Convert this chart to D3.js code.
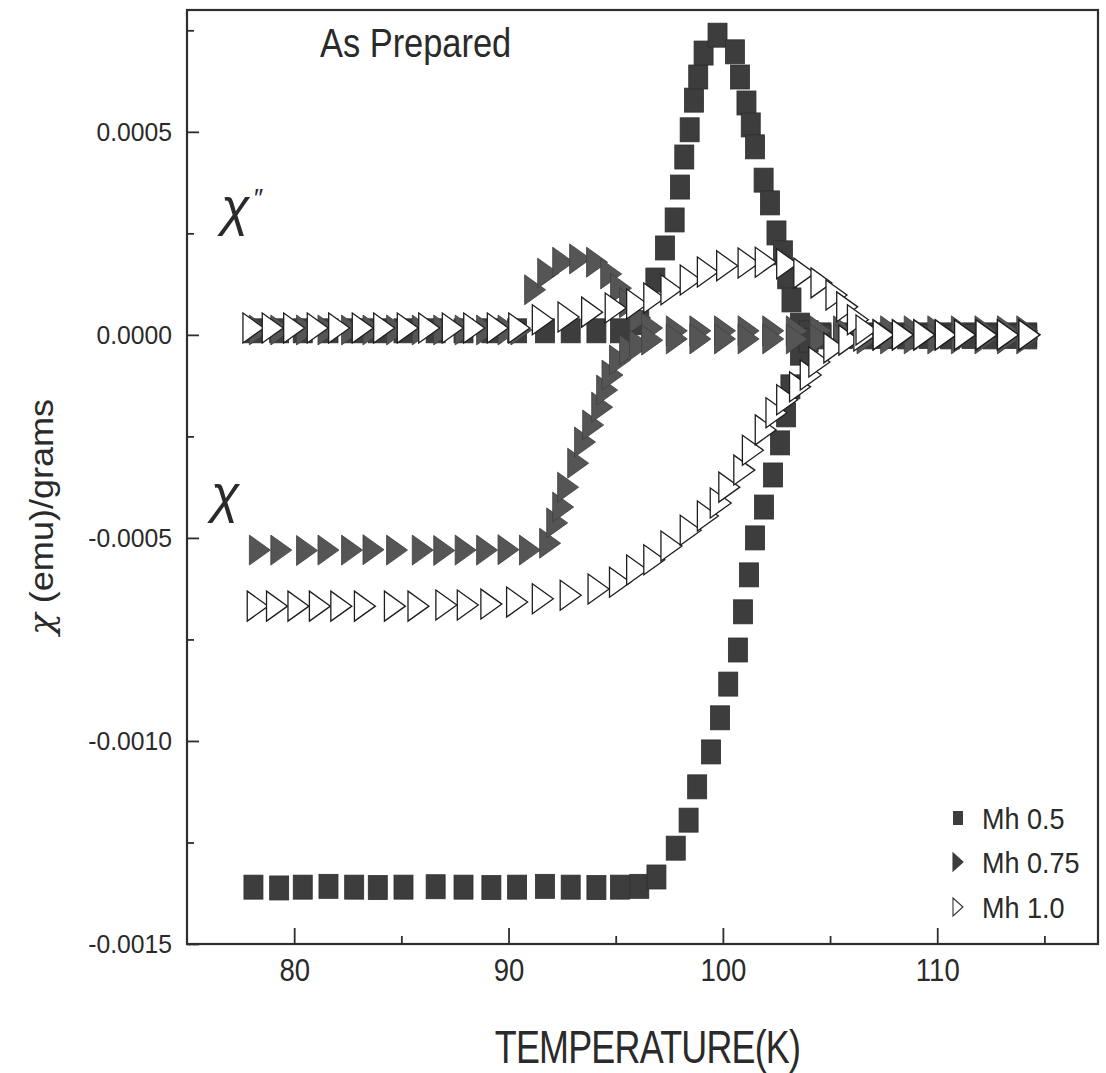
<!DOCTYPE html>
<html>
<head>
<meta charset="utf-8">
<script src="https://cdn.jsdelivr.net/npm/d3@7"></script>
<style>
  body { margin: 0; background: #fff; }
  svg { display: block; }
  text { font-family: "Liberation Sans", Arial, sans-serif; fill: #2a2a2a; }
</style>
</head>
<body>
<svg id="chart" width="1106" height="1073"></svg>
<script>
// AC susceptibility of the as-prepared samples: chi' (real) and chi'' (imaginary)
// versus temperature for three Mn contents.

// ---- Mn 0.5 (filled squares) ----
const tMn05Real = [78.1, 79.3, 80.4, 81.6, 82.8, 83.9, 85.1, 86.6, 87.9, 89.2, 90.4, 91.7, 92.9, 94.1, 95.2, 96.1,
  96.9, 97.8, 98.4, 98.8, 99.45, 99.87, 100.25, 100.7, 100.94, 101.22, 101.5, 101.92, 102.34, 102.67, 102.95, 103.15, 103.6, 104.0, 104.6,
  105.6, 106.6, 107.6, 108.6, 109.6, 110.6, 111.6, 112.6, 113.4, 114.2];
const chiMn05Real = [-0.00136, -0.001362, -0.00136, -0.001358, -0.00136, -0.001361, -0.00136, -0.001359, -0.00136, -0.001361, -0.00136, -0.001358, -0.00136, -0.001361, -0.00136, -0.001358,
  -0.001335, -0.001264, -0.001195, -0.001113, -0.001027, -0.000943, -0.000860, -0.000776, -0.000682, -0.000591, -0.000500, -0.000424, -0.000345, -0.000266, -0.000197, -0.000128, -0.000045, -0.000013, -0.000005,
  -0.000004, -0.000005, -0.000004, -0.000005, -0.000004, -0.000005, -0.000004, -0.000005, -0.000004, -0.000005];

const tMn05Imag = [78.1, 79.3, 80.4, 81.6, 82.8, 83.9, 85.1, 86.6, 87.9, 89.2, 90.4, 91.7, 92.9, 94.1, 95.2, 96.1,
  96.85, 97.3, 97.75, 98.0, 98.2, 98.45, 98.65, 98.85, 99.1, 99.75,
  100.56, 100.8, 101.1, 101.3, 101.5, 101.9, 102.2, 102.5, 102.8, 103.0, 103.2, 103.6, 104.0,
  104.6, 105.6, 106.6, 107.6, 108.6, 109.6, 110.6, 111.6, 112.6, 113.4, 114.2];
const chiMn05Imag = [0.00001, 0.00001, 0.00001, 0.00001, 0.00001, 0.00001, 0.00001, 0.00001, 0.00001, 0.00001, 0.00001, 0.00001, 0.00001, 0.00001, 0.00001, 0.00003,
  0.000135, 0.000214, 0.000283, 0.000364, 0.000438, 0.000505, 0.000578, 0.000635, 0.000694, 0.000738,
  0.000697, 0.000635, 0.000571, 0.000517, 0.000463, 0.000381, 0.000325, 0.000251, 0.000202, 0.000143, 0.000086, 0.000024, 0.000005,
  0, 0, 0, 0, 0, 0, 0, 0, 0, 0, 0];

// ---- Mn 0.75 (filled triangles) ----
const tMn075Real = [78.4, 79.4, 80.6, 81.6, 82.7, 83.7, 84.8, 86.0, 87.0, 88.0, 89.0, 90.0, 91.0,
  91.94, 92.27, 92.55, 92.78, 93.25, 93.57, 93.95, 94.37, 94.6, 94.85, 95.2, 95.67, 96.14,
  96.7, 97.85, 98.95, 100.1, 101.2, 102.35, 103.45, 104.55, 105.65, 106.75, 107.85, 108.95, 110.05, 111.15, 112.25, 113.3, 114.2];
const chiMn075Real = [-0.00053, -0.00053, -0.000531, -0.00053, -0.00053, -0.000529, -0.00053, -0.00053, -0.000531, -0.00053, -0.00053, -0.000529, -0.00053,
  -0.000513, -0.000463, -0.000424, -0.000375, -0.000316, -0.000264, -0.000222, -0.000178, -0.000136, -0.000099, -0.000062, -0.000037, -0.000025,
  -0.000013, -0.00001, -0.00001, -0.00001, -0.00001, -0.00001, -0.00001, -0.00001, -0.00001, -0.00001, -0.00001, -0.00001, -0.00001, -0.00001, -0.00001, -0.00001, -0.00001];

const tMn075Imag = [78.4, 79.4, 80.6, 81.6, 82.7, 83.7, 84.8, 86.0, 87.0, 88.0, 89.0, 90.0, 90.6,
  91.24, 91.85, 92.55, 93.34, 94.13, 94.79, 95.25, 95.67, 96.14,
  96.7, 97.85, 98.95, 100.1, 101.2, 102.35, 103.45, 104.55, 105.65, 106.75, 107.85, 108.95, 110.05, 111.15, 112.25, 113.3, 114.2];
const chiMn075Imag = [0.000012, 0.000012, 0.000012, 0.000012, 0.000012, 0.000012, 0.000012, 0.000012, 0.000012, 0.000012, 0.000012, 0.000012, 0.000012,
  0.000111, 0.000152, 0.000179, 0.000187, 0.000179, 0.000150, 0.000115, 0.000079, 0.000042,
  0.000017, 0.00001, 0.00001, 0.00001, 0.00001, 0.00001, 0.00001, 0.00001, 0.00001, 0.00001, 0.00001, 0.00001, 0.00001, 0.00001, 0.00001, 0.00001, 0.00001];

// ---- Mn 1.0 (open triangles) ----
const tMn10Real = [78.3, 79.2, 80.2, 81.2, 82.2, 83.3, 84.7, 85.8,
  87.1, 88.1, 89.2, 90.4, 91.6, 92.9, 94.2, 95.2,
  96.0, 96.8, 97.6, 98.5, 99.3, 99.9, 100.3, 101.0, 101.4, 102.0, 102.5, 103.0, 103.6, 104.1, 104.5, 105.2, 105.9, 106.6,
  107.5, 108.4, 109.4, 110.4, 111.3, 112.3, 113.3, 114.3];
const chiMn10Real = [-0.000668, -0.000668, -0.000668, -0.000668, -0.000668, -0.000668, -0.000668, -0.000668,
  -0.000665, -0.000665, -0.000663, -0.000658, -0.000650, -0.000641, -0.000626, -0.000609,
  -0.000579, -0.000554, -0.000520, -0.000481, -0.000446, -0.000414, -0.000375, -0.000333, -0.000284, -0.000234, -0.000192, -0.000160, -0.000128, -0.000099, -0.000067, -0.000032, -0.000013, -0.000003,
  0, 0, 0, 0, 0, 0, 0, 0];

const tMn10Imag = [78.1, 79.0, 80.0, 81.1, 82.1, 83.2, 84.2, 85.3, 86.3, 87.4, 88.4, 89.5, 90.5,
  91.6, 92.8, 93.9, 95.0, 96.0, 96.8, 97.6, 98.5, 99.3, 100.2, 101.2, 102.0, 103.0, 103.8, 104.6, 105.3, 105.8, 106.3, 106.7,
  107.5, 108.4, 109.4, 110.4, 111.3, 112.3, 113.3, 114.3];
const chiMn10Imag = [0.000017, 0.000017, 0.000017, 0.000017, 0.000017, 0.000017, 0.000017, 0.000017, 0.000017, 0.000017, 0.000017, 0.000017, 0.000017,
  0.000037, 0.000044, 0.000056, 0.000066, 0.000076, 0.000091, 0.000111, 0.000135, 0.000155, 0.000170, 0.000177, 0.000179, 0.000175, 0.000152, 0.000128, 0.000098, 0.000069, 0.000037, 0.000012,
  0, 0, 0, 0, 0, 0, 0, 0];

// ---- axes ----
const xMajorTicks = [80, 90, 100, 110];
const xMinorTicks = [85, 95, 105, 115];
const yMajorTicks = [-0.0015, -0.0010, -0.0005, 0.0, 0.0005];
const yMinorTicks = [-0.00125, -0.00075, -0.00025, 0.00025, 0.00075];
const legendLabels = ["Mh 0.5", "Mh 0.75", "Mh 1.0"];

const svg = d3.select("#chart");
const plot = { left: 187, right: 1098, top: 10, bottom: 944 };

const x = d3.scaleLinear().domain([75, 117.5]).range([plot.left, plot.right]);
const y = d3.scaleLinear().domain([-0.0015, 0.0008]).range([plot.bottom, plot.top]);

// squeeze text horizontally, like the condensed lettering of the plot
function condense(sel, k) {
  sel.each(function () {
    const w = this.getComputedTextLength();
    d3.select(this).attr("textLength", w * k).attr("lengthAdjust", "spacingAndGlyphs");
  });
}

// markers
const sqW = 19, sqH = 24;
const triW = 21, triH = 30;
const triPath = `M${-triW / 2},${-triH / 2}L${triW / 2},0L${-triW / 2},${triH / 2}Z`;

const pts = (ts, vs) => ts.map((t, i) => ({ t, v: vs[i] }));

const gData = svg.append("g");

function drawSquares(data) {
  gData.append("g").selectAll("rect").data(data).join("rect")
    .attr("x", d => x(d.t) - sqW / 2)
    .attr("y", d => y(d.v) - sqH / 2)
    .attr("width", sqW).attr("height", sqH)
    .attr("fill", "#3d3d3d").attr("stroke", "#2e2e2e").attr("stroke-width", 0.8);
}
function drawTriangles(data, filled) {
  gData.append("g").selectAll("path").data(data).join("path")
    .attr("d", triPath)
    .attr("transform", d => `translate(${x(d.t)},${y(d.v)})`)
    .attr("fill", filled ? "#555" : "#fff")
    .attr("stroke", filled ? "#3f3f3f" : "#1e1e1e")
    .attr("stroke-width", filled ? 0.8 : 1.3)
    .attr("stroke-linejoin", "miter");
}

drawSquares(pts(tMn05Imag, chiMn05Imag));
drawSquares(pts(tMn05Real, chiMn05Real));
drawTriangles(pts(tMn075Imag, chiMn075Imag), true);
drawTriangles(pts(tMn075Real, chiMn075Real), true);
drawTriangles(pts(tMn10Real, chiMn10Real), false);
drawTriangles(pts(tMn10Imag, chiMn10Imag), false);

// frame
svg.append("rect")
  .attr("x", plot.left).attr("y", plot.top)
  .attr("width", plot.right - plot.left).attr("height", plot.bottom - plot.top)
  .attr("fill", "none").attr("stroke", "#2e2e2e").attr("stroke-width", 2.2);

const fmtY = d => d3.format(".4f")(d).replace("\u2212", "-");

// bottom axis, ticks pointing inward
const xAxis = svg.append("g").attr("transform", `translate(0,${plot.bottom})`)
  .call(d3.axisBottom(x).tickValues(xMajorTicks).tickSize(-16).tickPadding(14).tickFormat(d3.format("d")));
svg.append("g").attr("transform", `translate(0,${plot.bottom})`)
  .call(d3.axisBottom(x).tickValues(xMinorTicks).tickSize(-8).tickFormat(""));

// left axis
const yAxis = svg.append("g").attr("transform", `translate(${plot.left},0)`)
  .call(d3.axisLeft(y).tickValues(yMajorTicks).tickSize(-12).tickPadding(15).tickFormat(fmtY));
svg.append("g").attr("transform", `translate(${plot.left},0)`)
  .call(d3.axisLeft(y).tickValues(yMinorTicks).tickSize(-7).tickFormat(""));

svg.selectAll(".domain").remove();
svg.selectAll(".tick line").attr("stroke", "#2e2e2e").attr("stroke-width", 1.8);

xAxis.selectAll("text").attr("font-size", 32).attr("fill", "#2a2a2a").attr("font-family", "Liberation Sans, Arial, sans-serif")
  .call(condense, 0.86);
yAxis.selectAll("text").attr("font-size", 26).attr("fill", "#2a2a2a").attr("font-family", "Liberation Sans, Arial, sans-serif")
  .call(condense, 0.95);

// axis titles
svg.append("text")
  .attr("x", (plot.left + plot.right) / 2 + 5).attr("y", 1063)
  .attr("text-anchor", "middle").attr("font-size", 46)
  .style("letter-spacing", "-1px")
  .text("TEMPERATURE(K)")
  .call(condense, 0.78);

const yTitle = svg.append("text")
  .attr("transform", "translate(53,517) rotate(-90)")
  .attr("text-anchor", "middle").attr("font-size", 34);
yTitle.append("tspan").attr("font-family", "DejaVu Serif, serif").attr("font-style", "italic").text("\u03C7");
yTitle.append("tspan").text(" (emu)/grams");
yTitle.call(condense, 1.06);

// annotation
svg.append("text")
  .attr("x", 320).attr("y", 57).attr("font-size", 40).attr("fill", "#3a3a3a")
  .text("As Prepared")
  .call(condense, 0.86);

// chi'' and chi labels
const serif = "Liberation Serif, Times New Roman, serif";
svg.append("text")
  .attr("x", 221).attr("y", 225)
  .attr("font-family", serif).attr("font-style", "italic").attr("font-size", 52).attr("fill", "#3a3a3a")
  .text("\u03C7");
svg.append("text")
  .attr("x", 254).attr("y", 207)
  .attr("font-family", serif).attr("font-size", 26).attr("fill", "#3a3a3a")
  .text("\u2033");
svg.append("text")
  .attr("x", 211).attr("y", 512)
  .attr("font-family", serif).attr("font-style", "italic").attr("font-size", 52).attr("fill", "#3a3a3a")
  .text("\u03C7");

// legend
const legend = svg.append("g");
const legendY = [818, 862, 907];
legendLabels.forEach((lab, i) => {
  const g = legend.append("g").attr("transform", `translate(958,${legendY[i]})`);
  if (i === 0) {
    g.append("rect").attr("x", -5).attr("y", -7).attr("width", 10).attr("height", 14).attr("fill", "#3d3d3d");
  } else {
    g.append("path").attr("d", "M-5,-9L5,0L-5,9Z")
      .attr("fill", i === 1 ? "#3d3d3d" : "#fff")
      .attr("stroke", i === 1 ? "#3d3d3d" : "#333").attr("stroke-width", 1.1);
  }
  g.append("text").attr("x", 24).attr("y", 11).attr("font-size", 30).text(lab).call(condense, 0.9);
});
</script>
</body>
</html>
